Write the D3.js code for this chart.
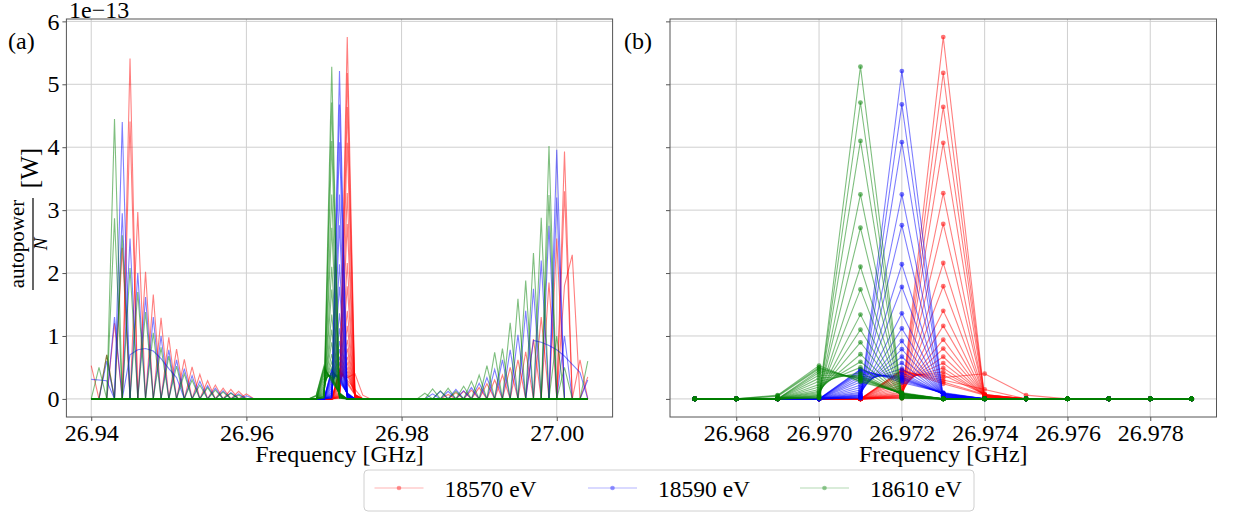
<!DOCTYPE html>
<html><head><meta charset="utf-8">
<script src="https://cdn.jsdelivr.net/npm/d3@7"></script>
<style>
body{margin:0;background:#fff}
svg{display:block}
text{font-family:"Liberation Serif","Times New Roman",serif;fill:#000}
</style>
</head><body>
<svg id="chart" width="1237" height="513"></svg>
<script>
// ---------------- DATA (power in units of 1e-13 W) ----------------
const frequencies = [26.940,26.941,26.942,26.943,26.944,26.945,26.946,26.947,26.948,26.949,
  26.950,26.951,26.952,26.953,26.954,26.955,26.956,26.957,26.958,26.959,
  26.960,26.961,26.962,26.963,26.964,26.965,26.966,26.967,26.968,26.969,
  26.970,26.971,26.972,26.973,26.974,26.975,26.976,26.977,26.978,26.979,
  26.980,26.981,26.982,26.983,26.984,26.985,26.986,26.987,26.988,26.989,
  26.990,26.991,26.992,26.993,26.994,26.995,26.996,26.997,26.998,26.999,
  27.000,27.001,27.002,27.003,27.004];
const energyLabels = ["18570 eV","18590 eV","18610 eV"];
const carrierFreqs = [26.973, 26.972, 26.971];
const xTicksA = [26.94, 26.96, 26.98, 27.00];
const xTicksB = [26.968, 26.970, 26.972, 26.974, 26.976, 26.978];
const yTicks = [0, 1, 2, 3, 4, 5, 6];
const zoomRange = [26.967, 26.979];

// 18570 eV (sideband offsets in MHz)
const redOffsets  = [13,14,15,16,17,18,19,20,21,22,23,24,25,26,27,28,28,29,30,31,33];
const redCarrier  = [5.75,5.18,4.64,4.07,3.27,2.78,2.16,1.79,1.40,1.16,0.94,0.80,0.67,0.57,0.49,0.43,0.38,0.34,0.30,0.27,0.24];
const redBelow    = [0.01,0.02,0.02,0.03,0.04,0.05,0.06,0.07,0.09,0.11,0.14,0.18,0.22,0.27,0.31,0.35,0.39,0.42,0.44,0.46,0.45];
const redAbove    = [0.01,0.01,0.02,0.02,0.02,0.03,0.03,0.03,0.04,0.04,0.05,0.05,0.05,0.06,0.06,0.07,0.07,0.40,0.15,0.07,0.06];
const redLowerSB  = [0.08,0.12,0.15,0.17,0.22,0.29,0.39,0.51,0.63,0.79,0.98,1.29,1.66,2.02,2.97,5.41,4.41,2.40,1.20,0.70,0.53];
const redUpperSB  = [0.07,0.10,0.12,0.14,0.18,0.24,0.30,0.38,0.50,0.62,0.75,0.95,1.30,1.85,2.55,3.93,3.30,2.29,0.62,0.35,0.00];
const redExtras   = [[17,26.975,0.06],[17,27.001,1.80]];

// 18590 eV
const blueOffsets = [12,13,14,15,16,17,18,19,20,21,22,23,24,25,26,27,28,28,29,30,32];
const blueCarrier = [5.21,4.68,4.08,3.25,2.76,2.14,1.78,1.36,1.12,0.92,0.79,0.67,0.57,0.48,0.42,0.38,0.35,0.33,0.31,0.29,0.26];
const blueBelow   = [0.01,0.02,0.02,0.03,0.04,0.05,0.06,0.07,0.09,0.11,0.14,0.18,0.22,0.27,0.31,0.35,0.39,0.42,0.44,0.46,0.47];
const blueAbove   = [0.01,0.01,0.02,0.02,0.02,0.03,0.03,0.04,0.04,0.05,0.05,0.06,0.06,0.07,0.07,0.08,0.08,0.08,0.09,0.09,0.10];
const blueLowerSB = [0.05,0.08,0.10,0.13,0.17,0.21,0.28,0.37,0.48,0.62,0.78,1.00,1.30,1.62,2.00,2.55,4.40,2.95,1.30,0.60,0.31];
const blueUpperSB = [0.08,0.12,0.12,0.15,0.13,0.18,0.25,0.34,0.47,0.62,0.78,1.02,1.40,1.75,2.20,2.75,3.96,3.20,1.00,0.55,0.30];
const blueExtras  = [[20,26.941,0.30],[20,26.942,0.29],
  [20,26.945,0.70],[20,26.946,0.78],[20,26.947,0.80],[20,26.948,0.76],[20,26.949,0.64],[20,26.950,0.48],[20,26.951,0.34],
  [19,26.997,0.93],[19,26.998,0.90],[19,26.999,0.85],[19,27.000,0.78],[19,27.001,0.68],[19,27.003,0.42]];

// 18610 eV
const greenOffsets = [12,13,14,15,16,17,18,19,20,21,22,23,24,25,26,27,28,28,29,30,33];
const greenCarrier = [5.28,4.71,4.10,3.25,2.72,2.10,1.74,1.34,1.10,0.90,0.71,0.59,0.50,0.42,0.38,0.36,0.34,0.33,0.31,0.29,0.27];
const greenBelow   = [0.01,0.02,0.02,0.03,0.04,0.05,0.06,0.08,0.10,0.12,0.15,0.19,0.23,0.28,0.33,0.38,0.42,0.45,0.48,0.50,0.53];
const greenAbove   = [0.01,0.01,0.02,0.02,0.02,0.03,0.03,0.04,0.04,0.05,0.05,0.06,0.06,0.07,0.07,0.08,0.08,0.08,0.09,0.09,0.10];
const greenLowerSB = [0.06,0.09,0.11,0.14,0.18,0.22,0.30,0.40,0.52,0.68,0.82,1.05,1.38,1.70,2.08,2.60,4.45,2.87,0.70,0.50,0.00];
const greenUpperSB = [0.09,0.16,0.13,0.17,0.12,0.20,0.28,0.38,0.53,0.74,0.80,1.21,1.59,1.88,2.32,2.88,4.02,3.24,1.00,0.50,0.60];
const greenExtras  = [[18,26.969,0.04],[19,26.969,0.05],[20,26.969,0.06]];

const colors = ["#ff0000", "#0000ff", "#008000"];

// ---------------- BUILD TABLE ----------------
const idxOf = f => frequencies.findIndex(v => Math.abs(v - f) < 1e-7);
function buildLines(cf, offsets, carrier, below, above, lowerSB, upperSB, extras) {
  const ci = idxOf(cf);
  const lines = offsets.map((d, k) => {
    const v = frequencies.map(() => 0);
    const put = (i, val) => { if (i >= 0 && i < v.length) v[i] = Math.max(v[i], val); };
    put(ci, carrier[k]); put(ci - 1, below[k]); put(ci + 1, above[k]);
    put(ci - d, lowerSB[k]); put(ci + d, upperSB[k]);
    return v;
  });
  extras.forEach(([k, f, val]) => { const i = idxOf(f); lines[k][i] = Math.max(lines[k][i], val); });
  return lines;
}
const series = [
  buildLines(carrierFreqs[0], redOffsets, redCarrier, redBelow, redAbove, redLowerSB, redUpperSB, redExtras),
  buildLines(carrierFreqs[1], blueOffsets, blueCarrier, blueBelow, blueAbove, blueLowerSB, blueUpperSB, blueExtras),
  buildLines(carrierFreqs[2], greenOffsets, greenCarrier, greenBelow, greenAbove, greenLowerSB, greenUpperSB, greenExtras)
];

// ---------------- DRAW ----------------
const svg = d3.select("#chart");
const plotTop = 19, plotBottom = 417;
const yMax = 5.75, yPad = 0.05 * yMax;
const y = d3.scaleLinear().domain([-yPad, yMax + yPad]).range([plotBottom, plotTop]);

function panel(id, left, right, xData, ticks, fmt, showYLabels, markers) {
  const span = xData[xData.length - 1] - xData[0];
  const x = d3.scaleLinear().domain([xData[0] - 0.05 * span, xData[xData.length - 1] + 0.05 * span]).range([left, right]);
  const g = svg.append("g");
  g.append("g").selectAll("line").data(ticks).join("line")
    .attr("x1", d => x(d)).attr("x2", d => x(d)).attr("y1", plotTop).attr("y2", plotBottom)
    .attr("stroke", "#cfcfcf").attr("stroke-width", 1);
  g.append("g").selectAll("line").data(yTicks).join("line")
    .attr("x1", left).attr("x2", right).attr("y1", d => y(d)).attr("y2", d => y(d))
    .attr("stroke", "#cfcfcf").attr("stroke-width", 1);
  svg.append("clipPath").attr("id", "clip" + id).append("rect")
    .attr("x", left).attr("y", plotTop).attr("width", right - left).attr("height", plotBottom - plotTop);
  const plot = g.append("g").attr("clip-path", `url(#clip${id})`);
  const i0 = idxOf(xData[0]);
  const line = d3.line().x(d => x(d[0])).y(d => y(d[1]));
  series.forEach((lines, s) => {
    lines.forEach(vals => {
      const pts = xData.map((f, j) => [f, vals[i0 + j]]);
      plot.append("path").attr("d", line(pts)).attr("fill", "none")
        .attr("stroke", colors[s]).attr("stroke-opacity", 0.5).attr("stroke-width", 1.1);
      if (markers) {
        plot.append("g").selectAll("circle").data(pts).join("circle")
          .attr("cx", d => x(d[0])).attr("cy", d => y(d[1])).attr("r", 2.4)
          .attr("fill", colors[s]).attr("fill-opacity", 0.55);
      }
    });
  });
  g.append("rect").attr("x", left).attr("y", plotTop).attr("width", right - left).attr("height", plotBottom - plotTop)
    .attr("fill", "none").attr("stroke", "#555").attr("stroke-width", 1);
  const ax = g.append("g").attr("transform", `translate(0,${plotBottom})`)
    .call(d3.axisBottom(x).tickValues(ticks).tickFormat(fmt).tickSize(4).tickPadding(3));
  const ay = g.append("g").attr("transform", `translate(${left},0)`)
    .call(d3.axisLeft(y).tickValues(yTicks).tickFormat(showYLabels ? d3.format("d") : () => "").tickSize(4).tickPadding(3));
  [ax, ay].forEach(a => {
    a.select(".domain").remove();
    a.selectAll(".tick line").attr("stroke", "#555");
    a.selectAll("text").attr("font-size", 24).attr("font-family", '"Liberation Serif",serif').attr("fill", "#000");
  });
  g.append("text").attr("x", (left + right) / 2).attr("y", 462).attr("text-anchor", "middle")
    .attr("font-size", 24).text("Frequency [GHz]");
  return x;
}

const xA = panel("a", 66.4, 612.6, frequencies, xTicksA, d3.format(".2f"), true, false);
const zoomFreqs = frequencies.filter(f => f >= zoomRange[0] - 1e-7 && f <= zoomRange[1] + 1e-7);
const xB = panel("b", 670, 1216.5, zoomFreqs, xTicksB, d3.format(".3f"), false, true);

svg.append("text").attr("x", 8).attr("y", 49).attr("font-size", 24).text("(a)");
svg.append("text").attr("x", 624).attr("y", 49).attr("font-size", 24).text("(b)");
svg.append("text").attr("x", 69).attr("y", 18).attr("font-size", 24).text("1e\u221213");

const yl = svg.append("g").attr("transform", "rotate(-90)");
yl.append("text").attr("x", -244).attr("y", 24).attr("text-anchor", "middle").attr("font-size", 21).text("autopower");
yl.append("line").attr("x1", -290).attr("x2", -198).attr("y1", 33).attr("y2", 33).attr("stroke", "#000").attr("stroke-width", 1.2);
yl.append("text").attr("x", -244).attr("y", 47).attr("text-anchor", "middle").attr("font-size", 19)
  .attr("font-style", "italic").text("N");
yl.append("text").attr("x", -168).attr("y", 38).attr("text-anchor", "middle").attr("font-size", 25).text("[W]");

const lg = svg.append("g");
lg.append("rect").attr("x", 364).attr("y", 470).attr("width", 610).attr("height", 41).attr("rx", 4)
  .attr("fill", "#fff").attr("stroke", "#d0d0d0").attr("stroke-width", 1);
const legX = [374.5, 588, 800];
energyLabels.forEach((lab, i) => {
  lg.append("line").attr("x1", legX[i]).attr("x2", legX[i] + 49).attr("y1", 488).attr("y2", 488)
    .attr("stroke", colors[i]).attr("stroke-opacity", 0.3).attr("stroke-width", 1.2);
  lg.append("circle").attr("cx", legX[i] + 24.5).attr("cy", 488).attr("r", 2.3)
    .attr("fill", colors[i]).attr("fill-opacity", 0.4);
  lg.append("text").attr("x", legX[i] + 70).attr("y", 497).attr("font-size", 23.5).text(lab);
});
</script>
</body></html>
